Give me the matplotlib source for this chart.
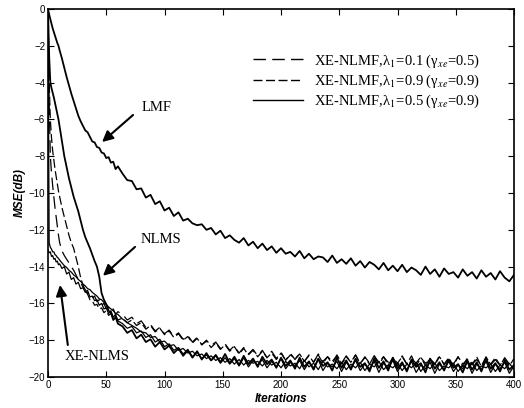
import numpy as np
import matplotlib
matplotlib.use("Agg")
import matplotlib.pyplot as plt

plt.rcParams["font.family"] = ["Liberation Sans", "DejaVu Sans"]
plt.rcParams["mathtext.fontset"] = "stix"
plt.rcParams["lines.scale_dashes"] = False

# Iteration grid: dense at the start, every 4 iterations afterwards
iterations = np.concatenate([np.arange(0, 11), np.arange(12, 61, 2), np.arange(64, 401, 4)])

mse_lmf = [
    0, -0.3, -0.55, -0.8, -1.05, -1.25, -1.45, -1.65, -1.85, -2.0, -2.25,
    -2.7, -3.2, -3.7, -4.15, -4.6, -5.0, -5.4, -5.8, -6.1, -6.35,
    -6.6, -6.7, -6.95, -7.2, -7.25, -7.5, -7.55, -7.8, -7.85, -8.1,
    -8.05, -8.35, -8.3, -8.7, -8.55,
    -8.95, -9.3, -9.35, -9.8, -9.75, -10.25, -10.1, -10.6, -10.45, -10.95,
    -10.8, -11.25, -11.05, -11.5, -11.4, -11.65, -11.75, -11.7, -12.0, -11.9,
    -12.25, -12.05, -12.45, -12.3, -12.55, -12.7, -12.45, -12.85, -12.65, -13.0,
    -12.75, -13.1, -12.9, -13.25, -13.0, -13.3, -13.2, -13.45, -13.15, -13.55,
    -13.3, -13.6, -13.45, -13.5, -13.75, -13.4, -13.8, -13.6, -13.85, -13.55,
    -13.95, -13.7, -14.05, -13.75, -13.9, -14.15, -13.8, -14.2, -13.95, -14.25,
    -13.9, -14.3, -14.05, -14.2, -14.45, -14.0, -14.4, -14.15, -14.55, -14.1,
    -14.4, -14.3, -14.6, -14.15, -14.5, -14.3, -14.65, -14.2, -14.55, -14.35,
    -14.7, -14.25, -14.6, -14.8, -14.45,
]

mse_nlms = [
    0, -2.6, -4.0, -4.3, -4.55, -4.8, -5.1, -5.4, -5.7, -6.0, -6.4,
    -7.2, -8.0, -8.6, -9.2, -9.7, -10.2, -10.6, -11.0, -11.5, -12.0,
    -12.4, -12.7, -13.0, -13.35, -13.7, -14.0, -14.55, -15.45, -15.8, -16.05,
    -16.4, -16.5, -16.9, -16.75, -17.1,
    -17.25, -17.6, -17.45, -17.9, -17.7, -18.1, -17.95, -18.35, -18.1, -18.5,
    -18.3, -18.7, -18.45, -18.85, -18.55, -18.95, -18.6, -19.05, -18.7, -19.1,
    -18.8, -19.2, -18.75, -19.25, -18.9, -19.35, -18.85, -19.3, -19.0, -19.45,
    -18.9, -19.3, -19.05, -19.5, -18.95, -19.4, -19.1, -19.55, -18.95, -19.45,
    -19.15, -19.6, -19.0, -19.4, -19.2, -19.65, -18.95, -19.5, -19.1, -19.6,
    -19.0, -19.45, -19.25, -19.7, -19.0, -19.5, -19.15, -19.65, -18.95, -19.55,
    -19.2, -19.7, -19.05, -19.45, -19.25, -19.75, -19.0, -19.55, -19.2, -19.65,
    -19.05, -19.5, -19.3, -19.75, -19.1, -19.6, -19.2, -19.7, -19.0, -19.55,
    -19.25, -19.7, -19.1, -19.6, -19.35,
]

mse_xe_nlms = [
    -13.1, -13.25, -13.2, -13.45, -13.4, -13.6, -13.55, -13.75, -13.7, -13.9, -13.85,
    -14.1, -14.0, -14.4, -14.3, -14.7, -14.6, -14.95, -14.85, -15.2, -15.15,
    -15.4, -15.3, -15.65, -15.6, -15.85, -15.8, -16.1, -16.0, -16.3, -16.25,
    -16.55, -16.4, -16.75, -16.6, -16.95,
    -17.1, -17.35, -17.25, -17.6, -17.5, -17.85, -17.7, -18.1, -17.95, -18.35,
    -18.2, -18.55, -18.4, -18.75, -18.5, -18.9, -18.65, -19.0, -18.8, -19.1,
    -18.85, -19.25, -18.95, -19.3, -19.0, -19.4, -18.95, -19.45, -19.1, -19.35,
    -19.05, -19.5, -19.15, -19.45, -19.0, -19.55, -19.2, -19.4, -19.1, -19.6,
    -19.2, -19.5, -19.05, -19.65, -19.25, -19.45, -19.15, -19.7, -19.2, -19.5,
    -19.1, -19.65, -19.3, -19.55, -19.15, -19.75, -19.25, -19.5, -19.1, -19.7,
    -19.3, -19.6, -19.15, -19.75, -19.35, -19.55, -19.2, -19.8, -19.3, -19.6,
    -19.15, -19.7, -19.35, -19.55, -19.2, -19.8, -19.3, -19.6, -19.15, -19.75,
    -19.3, -19.55, -19.2, -19.8, -19.4,
]

mse_xe_nlmf_01 = [
    0, -5.0, -8.0, -8.9, -9.6, -10.2, -10.8, -11.3, -11.8, -12.3, -12.7,
    -13.15, -13.4, -13.6, -13.8, -14.0, -14.2, -14.45, -14.7, -14.9, -15.1,
    -15.25, -15.45, -15.45, -15.7, -15.6, -15.9, -15.8, -16.1, -16.0, -16.3,
    -16.2, -16.45, -16.3, -16.6, -16.45,
    -16.6, -16.9, -16.75, -17.1, -16.95, -17.3, -17.15, -17.5, -17.3, -17.65,
    -17.45, -17.8, -17.6, -17.95, -17.75, -18.1, -17.85, -18.25, -18.0, -18.3,
    -18.1, -18.45, -18.2, -18.55, -18.3, -18.7, -18.4, -18.75, -18.5, -18.85,
    -18.55, -18.95, -18.6, -19.0, -18.65, -19.1, -18.7, -19.05, -18.75, -19.15,
    -18.8, -19.2, -18.75, -19.15, -18.9, -19.3, -18.8, -19.25, -18.85, -19.2,
    -18.8, -19.3, -18.9, -19.25, -18.85, -19.35, -18.9, -19.2, -18.95, -19.4,
    -18.85, -19.3, -19.0, -19.25, -18.9, -19.4, -18.95, -19.3, -18.85, -19.35,
    -19.0, -19.3, -18.9, -19.45, -18.95, -19.3, -19.05, -19.4, -18.9, -19.35,
    -19.05, -19.4, -18.95, -19.3, -19.1,
]

mse_xe_nlmf_09 = [
    0, -4.0, -6.0, -7.0, -7.7, -8.2, -8.7, -9.1, -9.5, -9.9, -10.2,
    -10.8, -11.3, -11.8, -12.3, -12.7, -13.0, -13.5, -14.0, -14.6, -15.0,
    -15.3, -15.5, -15.8, -15.85, -16.1, -16.05, -16.3, -16.25, -16.5, -16.4,
    -16.65, -16.55, -16.8, -16.7, -16.9,
    -16.8, -17.05, -16.9, -17.2, -17.05, -17.4, -17.2, -17.55, -17.35, -17.7,
    -17.5, -17.85, -17.65, -18.0, -17.8, -18.15, -17.9, -18.25, -18.05, -18.4,
    -18.15, -18.5, -18.25, -18.6, -18.35, -18.75, -18.45, -18.8, -18.55, -18.9,
    -18.6, -18.95, -18.7, -19.05, -18.7, -19.1, -18.8, -19.0, -18.75, -19.15,
    -18.85, -19.2, -18.8, -19.25, -18.9, -19.15, -18.85, -19.3, -18.9, -19.2,
    -18.8, -19.25, -18.95, -19.3, -18.85, -19.2, -18.9, -19.35, -18.95, -19.25,
    -18.9, -19.3, -18.85, -19.4, -18.95, -19.25, -19.0, -19.35, -18.9, -19.3,
    -18.95, -19.4, -18.9, -19.3, -19.05, -19.35, -18.9, -19.45, -19.0, -19.3,
    -18.95, -19.35, -19.05, -19.4, -19.0,
]

mse_xe_nlmf_05 = [
    0, -12.7, -12.95, -13.05, -13.2, -13.2, -13.35, -13.4, -13.5, -13.55, -13.65,
    -13.8, -13.95, -14.05, -14.2, -14.3, -14.45, -14.55, -14.7, -14.8, -14.95,
    -15.05, -15.2, -15.25, -15.4, -15.5, -15.6, -15.75, -15.8, -15.95, -16.05,
    -16.2, -16.3, -16.4, -16.55, -16.6,
    -16.85, -17.05, -17.2, -17.35, -17.55, -17.6, -17.85, -17.8, -18.1, -18.05,
    -18.3, -18.25, -18.55, -18.45, -18.7, -18.6, -18.85, -18.75, -19.0, -18.85,
    -19.1, -18.95, -19.2, -19.0, -19.3, -19.05, -19.35, -19.1, -19.25, -19.15,
    -19.4, -19.1, -19.35, -19.2, -19.5, -19.15, -19.4, -19.25, -19.55, -19.1,
    -19.45, -19.25, -19.6, -19.15, -19.45, -19.3, -19.55, -19.2, -19.6, -19.3,
    -19.5, -19.2, -19.65, -19.3, -19.45, -19.15, -19.6, -19.35, -19.5, -19.25,
    -19.65, -19.3, -19.5, -19.2, -19.7, -19.35, -19.55, -19.25, -19.65, -19.4,
    -19.5, -19.25, -19.7, -19.35, -19.55, -19.2, -19.65, -19.4, -19.5, -19.3,
    -19.7, -19.35, -19.55, -19.25, -19.6,
]

legend_labels = [
    r"XE-NLMF,λ$_1$=0.1 (γ$_{xe}$=0.5)",
    r"XE-NLMF,λ$_1$=0.9 (γ$_{xe}$=0.9)",
    r"XE-NLMF,λ$_1$=0.5 (γ$_{xe}$=0.9)",
]

fig = plt.figure(figsize=(5.24, 4.08), dpi=100)
ax = fig.add_axes([48 / 524, 1 - 377 / 408, 466 / 524, 368 / 408])

ax.plot(iterations, mse_lmf, color="black", lw=1.3)
ax.plot(iterations, mse_nlms, color="black", lw=1.3)
ax.plot(iterations, mse_xe_nlms, color="black", lw=0.9)
h1, = ax.plot(iterations, mse_xe_nlmf_01, color="black", lw=0.9, dashes=(9, 4.5))
h2, = ax.plot(iterations, mse_xe_nlmf_09, color="black", lw=0.9, dashes=(6.5, 2.5))
h3, = ax.plot(iterations, mse_xe_nlmf_05, color="black", lw=0.9)

ax.set_xlim(0, 400)
ax.set_ylim(-20, 0)
ax.set_xticks(np.arange(0, 401, 50))
ax.set_yticks(np.arange(-20, 1, 2))
ax.tick_params(direction="in", length=4, width=0.8, labelsize=7, pad=2,
               top=True, right=True)
for s in ax.spines.values():
    s.set_linewidth(1.2)

ax.set_xlabel("Iterations", fontsize=8.5, fontweight="bold", fontstyle="italic", labelpad=2)
ax.set_ylabel("MSE(dB)", fontsize=8.5, fontweight="bold", fontstyle="italic", labelpad=2)

leg = ax.legend([h1, h2, h3], legend_labels, loc="center left",
                bbox_to_anchor=(0.44, 0.804), frameon=False,
                prop={"family": "Liberation Serif", "size": 10.5},
                handlelength=3.45, handletextpad=0.7, labelspacing=0.2,
                borderpad=0, borderaxespad=0)
for line in leg.get_lines():
    line.set_linewidth(1.0)

arrow = dict(arrowstyle="-|>", color="black", lw=1.5, mutation_scale=16,
             shrinkA=0, shrinkB=0)
serif = {"family": "Liberation Serif", "size": 10.5}
ax.text(93.6, -5.38, "LMF", ha="center", va="center", fontdict=serif)
ax.annotate("", xy=(46.4, -7.23), xytext=(73, -5.76), arrowprops=arrow)
ax.text(97, -12.5, "NLMS", ha="center", va="center", fontdict=serif)
ax.annotate("", xy=(47.2, -14.5), xytext=(74.7, -12.93), arrowprops=arrow)
ax.text(42, -18.86, "XE-NLMS", ha="center", va="center", fontdict=serif)
ax.annotate("", xy=(10.3, -15.0), xytext=(17, -18.26), arrowprops=arrow)

fig.savefig("out.png", dpi=100)
